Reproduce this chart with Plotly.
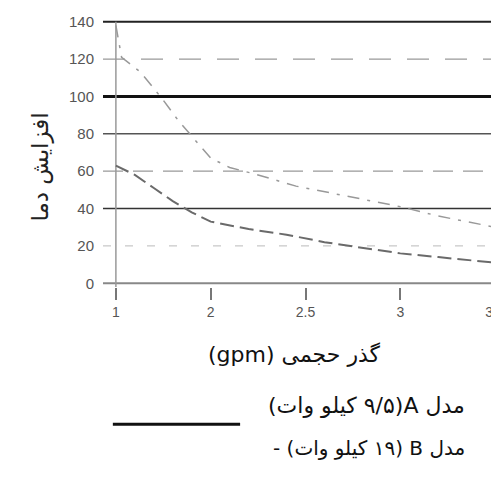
import plotly.graph_objects as go

# flow (gpm) and temperature rise
flow_a = [1.5, 1.6, 1.7, 1.8, 1.9, 2.0, 2.2, 2.4, 2.6, 2.8, 3.0, 3.2, 3.5]
rise_a = [63, 58, 51, 44, 38, 33, 29, 26, 22, 19, 16, 14, 11]

flow_b = [1.5, 1.53, 1.63, 1.75, 1.83, 1.95, 2.0, 2.1, 2.25, 2.45, 2.6, 2.75, 2.9, 3.0, 3.2, 3.5]
rise_b = [138, 121, 113, 98, 87, 73, 67, 62, 58, 52, 49, 46, 43, 41, 36, 30]

x_ticks = [1.5, 2, 2.5, 3, 3.5]
x_labels = ["1", "2", "2.5", "3", "3.5"]
y_ticks = [0, 20, 40, 60, 80, 100, 120, 140]

x_title = "\u202bگذر حجمی (gpm)\u202c"
y_title = "افزایش دما"
name_a = "\u202bمدل A(۹/۵ کیلو وات)\u202c"
name_b = "\u202bمدل B (۱۹ کیلو وات) -\u202c"

grid_style = {
    0: dict(color="#888", width=2.2),
    20: dict(color="#bbb", width=1, dash="8px,14px"),
    40: dict(color="#333", width=1.6),
    60: dict(color="#999", width=1.2, dash="20px,10px"),
    80: dict(color="#555", width=1.6),
    100: dict(color="#111", width=3),
    120: dict(color="#999", width=1.2, dash="22px,16px"),
    140: dict(color="#222", width=2),
}

fig = go.Figure()

for v in y_ticks:
    fig.add_shape(type="line", xref="paper", yref="y", x0=0, x1=1, y0=v, y1=v,
                  line=grid_style[v], layer="below")

# vertical axis line at first tick
fig.add_shape(type="line", xref="x", yref="y", x0=x_ticks[0], x1=x_ticks[0], y0=-2, y1=140,
              line=dict(color="#999", width=1.5), layer="below")

fig.add_trace(go.Scatter(x=flow_a, y=rise_a, mode="lines", name=name_a,
                         line=dict(color="#6a6a6a", width=2, dash="14px,6px"), showlegend=False))
fig.add_trace(go.Scatter(x=flow_b, y=rise_b, mode="lines", name=name_b,
                         line=dict(color="#999", width=1.5, dash="12px,8px,3px,8px"), showlegend=False))

arabic = "DejaVu Sans"

fig.add_annotation(text=y_title, xref="paper", yref="paper", x=-0.198, y=0.446, textangle=-90,
                   showarrow=False, font=dict(family=arabic, size=23, color="#222"))
fig.add_annotation(text=x_title, xref="paper", yref="paper", x=0.487, y=-0.305,
                   showarrow=False, font=dict(family=arabic, size=22, color="#111"))
fig.add_annotation(text=name_a, xref="paper", yref="paper", x=0.924, y=-0.494, xanchor="right",
                   showarrow=False, font=dict(family=arabic, size=22, color="#111"))
fig.add_annotation(text=name_b, xref="paper", yref="paper", x=0.924, y=-0.651, xanchor="right",
                   showarrow=False, font=dict(family=arabic, size=20, color="#111"))
fig.add_shape(type="line", xref="paper", yref="paper", x0=0.025, x1=0.348, y0=-0.51, y1=-0.51,
              line=dict(color="#111", width=3))

fig.update_xaxes(range=[1.432, 3.51], tickvals=x_ticks, ticktext=x_labels, showgrid=False,
                 zeroline=False, showline=False, ticks="outside", ticklen=12, tickwidth=1.5,
                 tickcolor="#777", automargin=False, ticklabeloverflow="allow",
                 tickfont=dict(family="Liberation Sans", size=14, color="#555"))
fig.update_yaxes(range=[-2, 142], tickvals=y_ticks, showgrid=False, zeroline=False, showline=False,
                 ticks="", ticklabelstandoff=8, automargin=False,
                 tickfont=dict(family="Liberation Sans", size=15, color="#555"))

# page body adds an 8px offset, so the figure is 8px smaller with shifted margins
fig.update_layout(width=491, height=469, margin=dict(l=95, r=2, t=10, b=190),
                  plot_bgcolor="white", paper_bgcolor="white", showlegend=False)

fig.write_html("out.html")
